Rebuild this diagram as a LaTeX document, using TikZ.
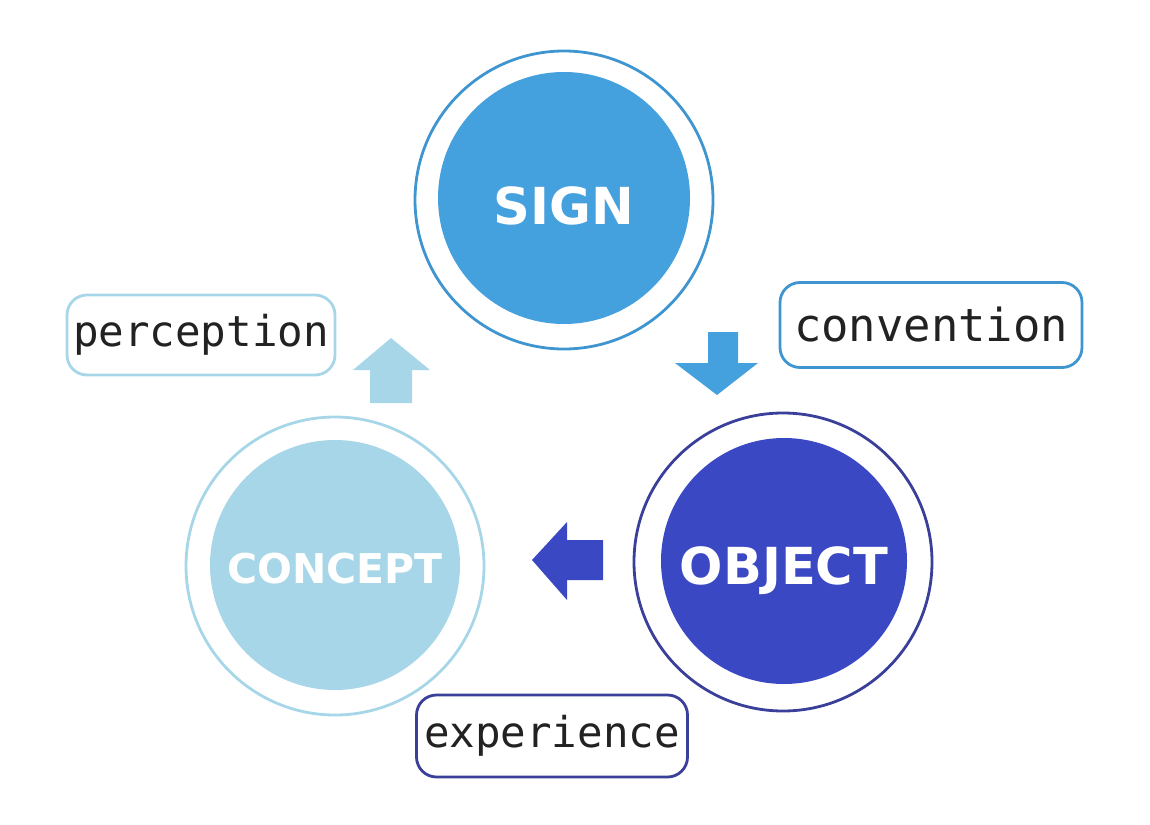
\documentclass[tikz,border=0pt]{standalone}
\usepackage{fontspec}
\setmainfont{DejaVu Sans}
\newfontfamily\tagfont{DejaVu Sans Mono}
\definecolor{signblue}{HTML}{45A0DE}
\definecolor{signring}{HTML}{3F95D0}
\definecolor{objblue}{HTML}{3B48C4}
\definecolor{objring}{HTML}{3A3F9A}
\definecolor{conblue}{HTML}{A6D6E8}
\definecolor{tagtext}{HTML}{222222}
\tikzset{
  core/.style={circle, inner sep=0pt, text=white, text depth=0pt},
  ring/.style={circle, inner sep=0pt, minimum size=298pt, line width=2.8pt},
  tag/.style={rounded corners=20pt, line width=2.8pt, fill=white,
    text=tagtext, inner sep=0pt}
}
\begin{document}
\begin{tikzpicture}[x=1pt,y=-1pt]
  \useasboundingbox (0,0) rectangle (1150,824);

  % circles
  \node[ring, draw=signring] (signring) at (564,200) {};
  \node[core, fill=signblue, minimum size=252pt, text height=53pt,
    font=\bfseries\fontsize{51}{60}\selectfont] (sign) at (564,198) {SIGN};
  \node[ring, draw=objring] (objring) at (783,562) {};
  \node[core, fill=objblue, minimum size=246pt, text height=47pt,
    font=\bfseries\fontsize{51}{60}\selectfont] (object) at (784,561) {OBJECT};
  \node[ring, draw=conblue] (conring) at (335,566) {};
  \node[core, fill=conblue, minimum size=250pt, text height=36pt,
    font=\bfseries\fontsize{41}{50}\selectfont] (concept) at (335,565) {CONCEPT};

  % labels
  \node[tag, draw=conblue, minimum width=268pt, minimum height=80pt,
    font=\tagfont\fontsize{42.5}{50}\selectfont] (perc) at (201,335) {perception};
  \node[tag, draw=signring, minimum width=302pt, minimum height=85pt,
    font=\tagfont\fontsize{45.5}{50}\selectfont] (conv) at (931,325) {convention};
  \node[tag, draw=objring, minimum width=271pt, minimum height=82pt,
    font=\tagfont\fontsize{42.5}{50}\selectfont] (exper) at (552,736) {experience};

  % block arrows
  \fill[signblue] (708,332) -- (738,332) -- (738,363) -- (758,363)
    -- (717,395) -- (675,363) -- (708,363) -- cycle;
  \fill[objblue] (603,540) -- (603,580) -- (567,580) -- (567,600)
    -- (532,560) -- (567,522) -- (567,540) -- cycle;
  \fill[conblue] (370,403) -- (412,403) -- (412,370) -- (430,370)
    -- (391,338) -- (353,370) -- (370,370) -- cycle;
\end{tikzpicture}
\end{document}
